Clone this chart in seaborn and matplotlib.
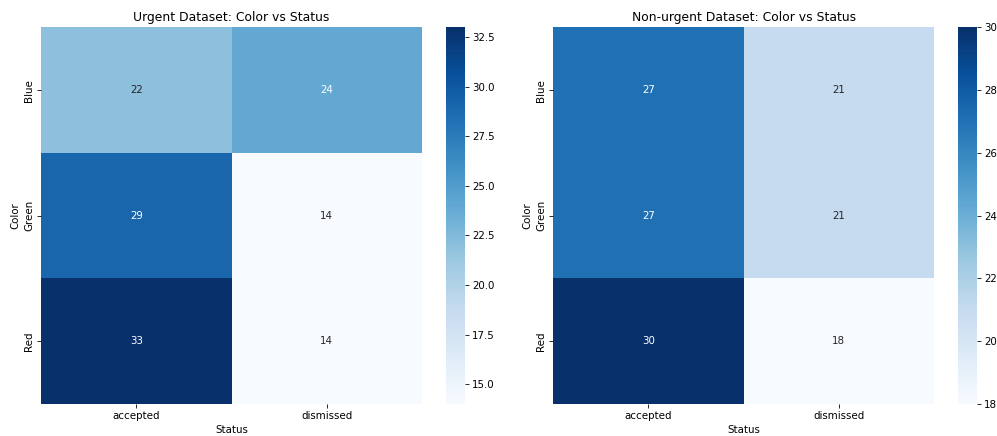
import matplotlib
matplotlib.use("Agg")
import matplotlib.pyplot as plt
import seaborn as sns
import pandas as pd

colors = ["Blue", "Green", "Red"]
statuses = ["accepted", "dismissed"]
urgent_accepted = [22, 29, 33]
urgent_dismissed = [24, 14, 14]
nonurgent_accepted = [27, 27, 30]
nonurgent_dismissed = [21, 21, 18]

urgent = pd.DataFrame({statuses[0]: urgent_accepted, statuses[1]: urgent_dismissed}, index=colors)
nonurgent = pd.DataFrame({statuses[0]: nonurgent_accepted, statuses[1]: nonurgent_dismissed}, index=colors)
for df in (urgent, nonurgent):
    df.index.name = "Color"
    df.columns.name = "Status"

W, H, DPI = 997, 436, 74
fig = plt.figure(figsize=(W / DPI, H / DPI), dpi=DPI)


def px_axes(x0, x1, top, bottom):
    return fig.add_axes([x0 / W, (H - bottom) / H, (x1 - x0) / W, (bottom - top) / H])


ax1 = px_axes(41.3, 422, 27.3, 404)
cax1 = px_axes(446, 465, 27.3, 404)
ax2 = px_axes(553.3, 934, 27.3, 404)
cax2 = px_axes(957.7, 976.7, 27.3, 404)

sns.heatmap(urgent, annot=True, fmt="d", cmap="Blues", ax=ax1, cbar_ax=cax1)
ax1.set_title("Urgent Dataset: Color vs Status")
sns.heatmap(nonurgent, annot=True, fmt="d", cmap="Blues", ax=ax2, cbar_ax=cax2)
ax2.set_title("Non-urgent Dataset: Color vs Status")
fig.savefig("out.png", dpi=DPI)
